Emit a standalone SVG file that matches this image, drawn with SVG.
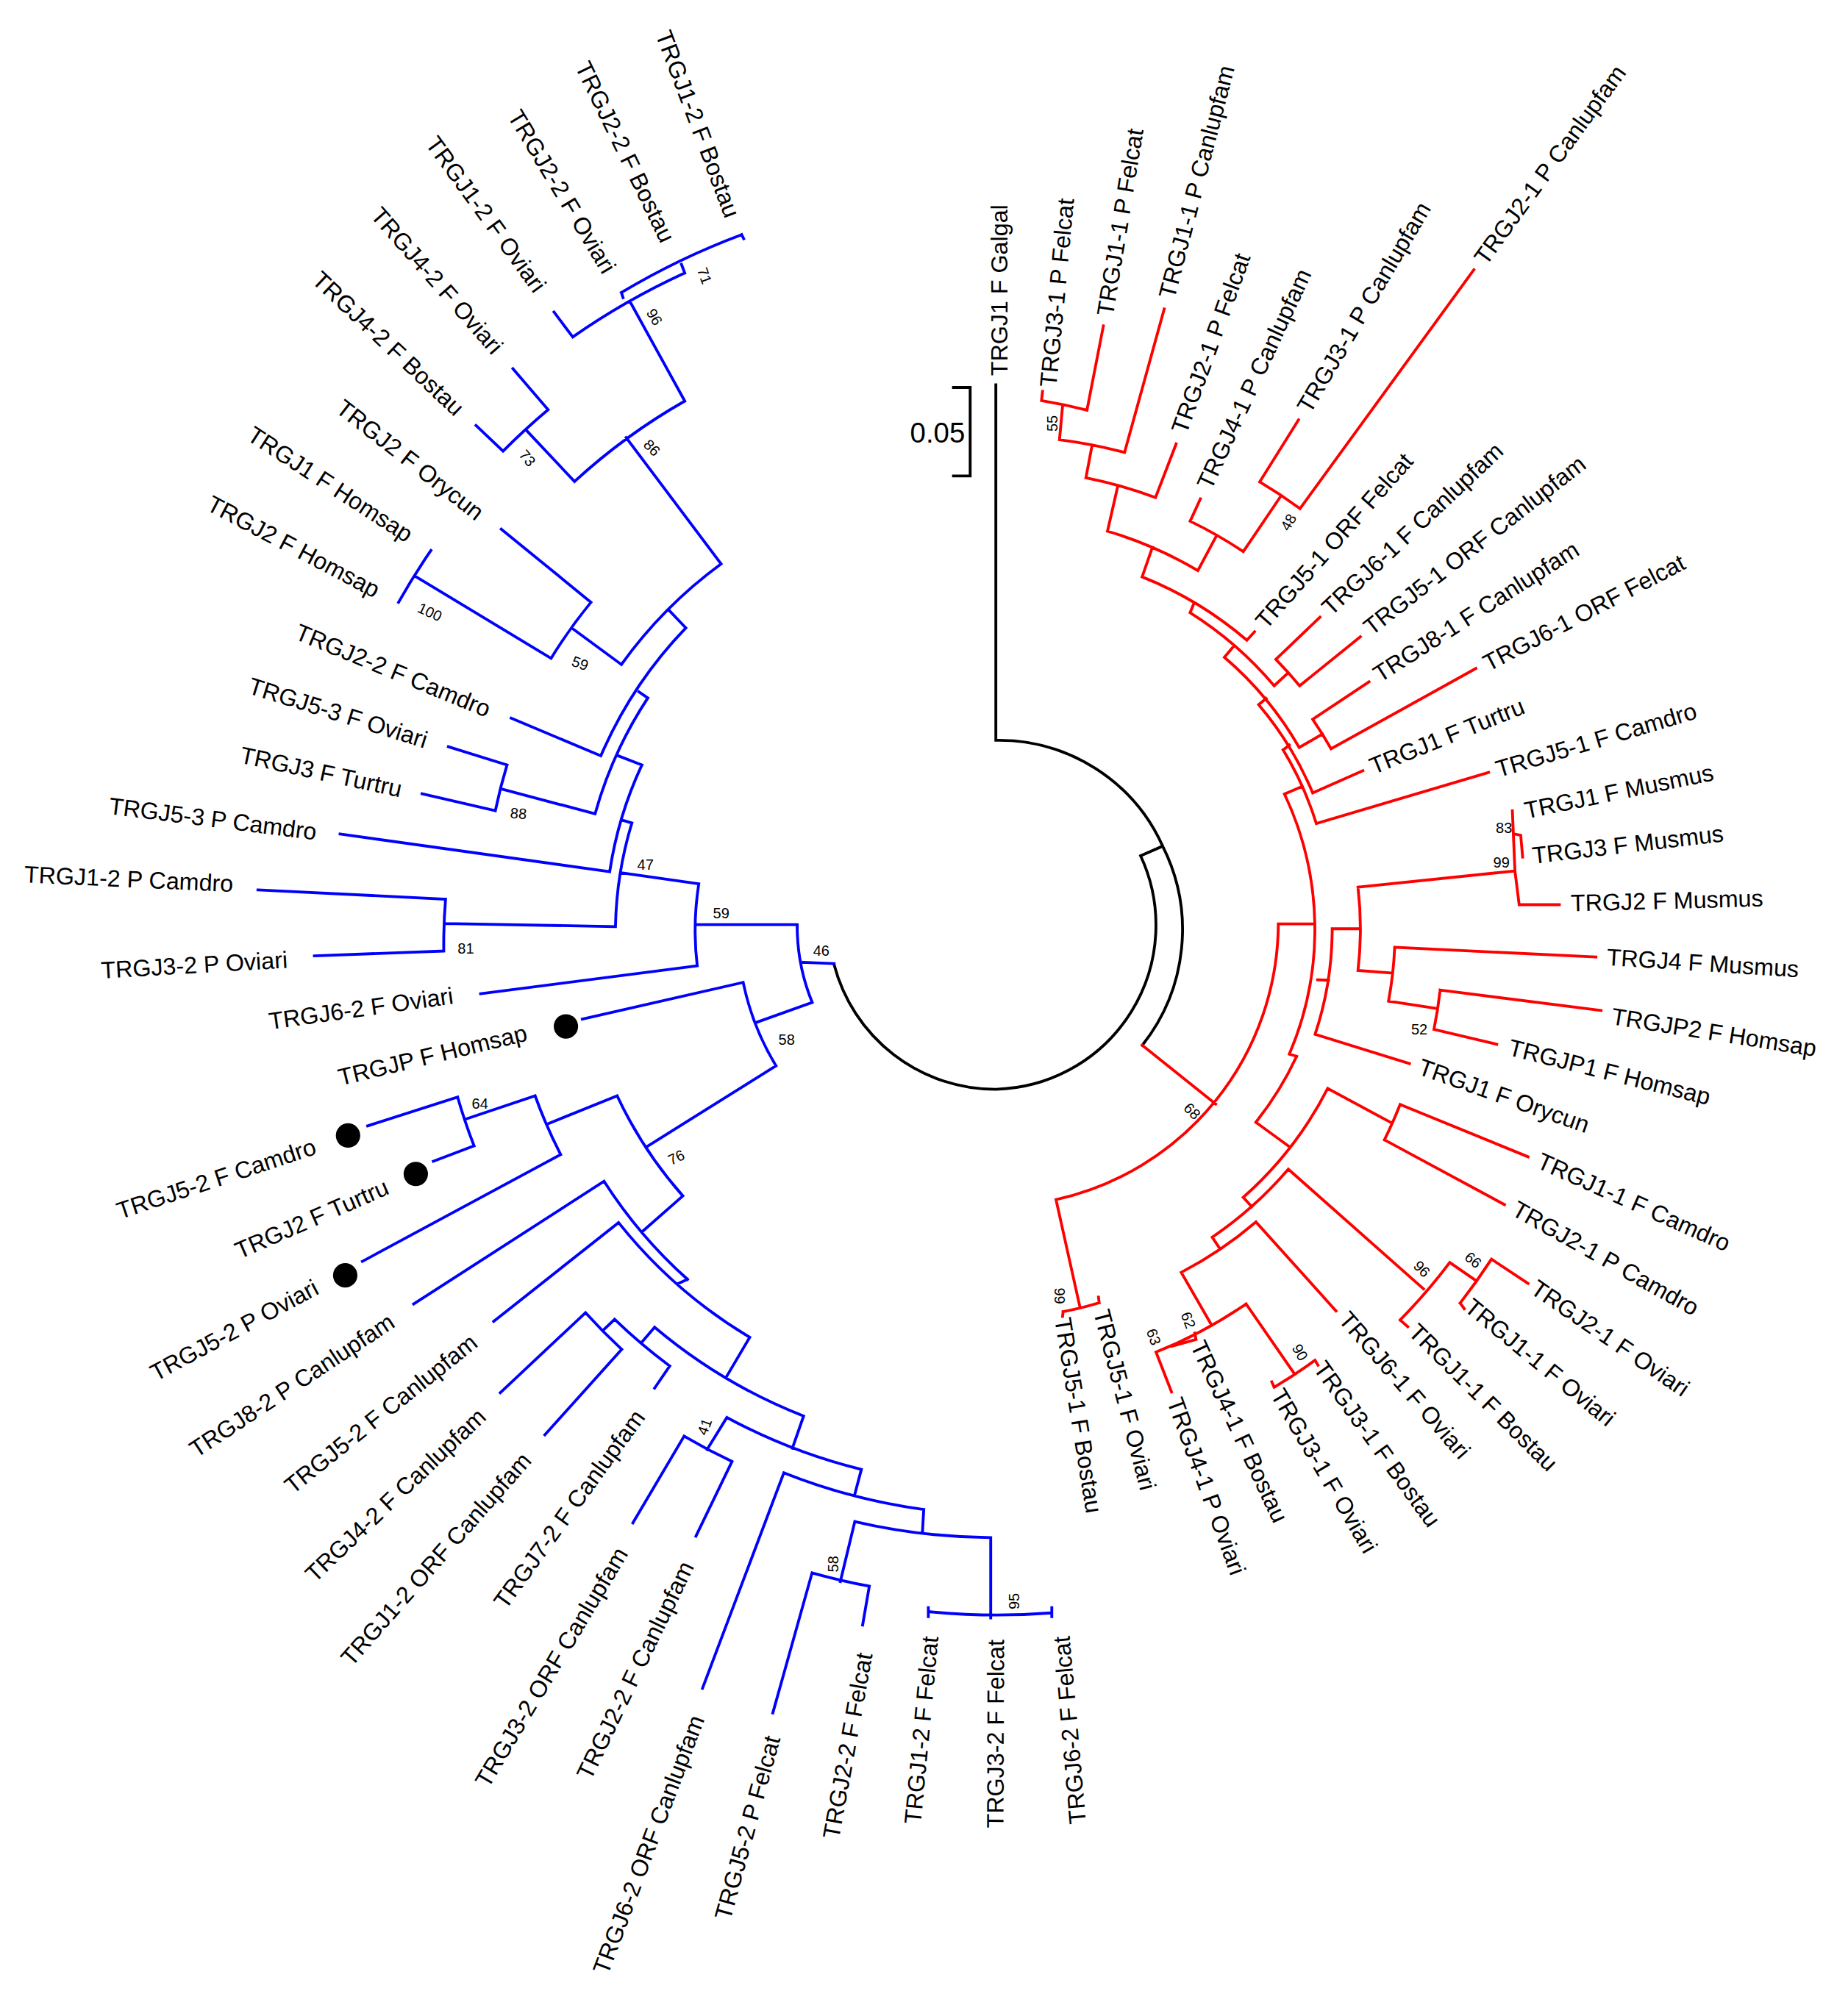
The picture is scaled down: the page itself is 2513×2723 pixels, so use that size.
<svg xmlns="http://www.w3.org/2000/svg" width="2513" height="2723" viewBox="0 0 2513 2723">
<style>
.e{fill:none;stroke-width:2.2;stroke-linecap:square}
.r{stroke:#ff0000}.b{stroke:#0000ff}.k{stroke:#000}
text{font-family:"Liberation Sans",Arial,sans-serif;fill:#000}
.l{font-size:18.5px;dominant-baseline:central}
.s{text-anchor:start}.n{text-anchor:end}
.bs{font-size:11.5px;text-anchor:middle;dominant-baseline:central}
</style>
<rect width="2513" height="2723" fill="#fff"/>
<g transform="scale(1.7451)">
<g id="connectors">
<path class="e k" d="M776,300 L776,577 M776,577 A140,140 0 0 1 906,659.5 M906,659.5 A145,145 0 0 1 890.1,814.7 M906,659.5 L888.8,667 M888.8,667 A128,128 0 0 1 776,849 A130,130 0 0 1 650,752"/>
<path class="e k" d="M743,302 L756,302 L756,371 L743,371"/>
<path class="e r" d="M811.6,312.2 A404,404 0 0 1 847,319.7 M811.6,312.2 L812.4,305 M847,319.7 L859.8,254 M828,316.4 L825.6,342.7 M825.6,342.7 A376,376 0 0 1 876.3,352.6 M876.3,352.6 L907.2,240.8 M851,347 L846.2,372.4 M846.2,372.4 A350,350 0 0 1 900.4,387.8 M900.4,387.8 L916.5,346 M871,379 L863,414 M863,414 A313,313 0 0 1 933.4,444.7 M933.4,444.7 L947.5,418.4 M927.4,406.2 A344,344 0 0 1 968.8,429.9 M927.4,406.2 L935.4,388.8 M968.8,429.9 L997.7,387.2 M981.6,375.6 A396,396 0 0 1 1013,396.4 M981.6,375.6 L1011.8,327.3 M1013,396.4 L1148.5,210.2 M898,426.6 L890,449.6 M890,449.6 A290,290 0 0 1 971.6,499 M971.6,499 L977.6,492.4 M930,471 L927.4,477.5 M927.4,477.5 A282,282 0 0 1 992.9,534.5 M992.9,534.5 L1003.8,524.4 M994.2,513.9 A296,296 0 0 1 1012.7,534.5 M994.2,513.9 L1028.6,481 M1012.7,534.5 L1060.1,496.3 M961.7,503.3 L954.1,512.3 M954.1,512.3 A269,269 0 0 1 1012.4,582.6 M1012.4,582.6 L1030.5,572.1 M1022.9,560.6 A290,290 0 0 1 1037.2,583.6 M1022.9,560.6 L1066.8,531.4 M1037.2,583.6 L1150,521 M986.6,544.4 L980.8,549.2 M980.8,549.2 A263,263 0 0 1 1022.9,618 M1022.9,618 L1062,600.7 M1004.7,580.7 L999.9,584.5 M999.9,584.5 A258,258 0 0 1 1025.7,641.8 M1025.7,641.8 L1160,602 M1014.3,613.2 L1000.9,618.9 M1000.9,618.9 A247,247 0 0 1 1004.7,821.6 M996.1,720.1 L1023.8,720.1 M1026.7,763.7 L1035.3,764 M1038.1,723.9 A261,261 0 0 1 1024.8,806.1 M1024.8,806.1 L1098.3,829 M1038.1,723.9 L1058.2,723.9 M1058.2,691.5 A282,282 0 0 1 1058.2,756.4 M1058.2,691.5 L1180.5,678.8 M1178.5,631.9 L1180.5,678.8 L1183.8,705.1 L1215.1,705.1 M1180,650 L1185,651 L1186.5,668 M1058.2,756.4 L1084,758.3 M1086.8,738.3 A310,310 0 0 1 1082,780.3 M1086.8,738.3 L1243.6,745.9 M1082,780.3 L1119.3,786 M1122.2,771.7 A349,349 0 0 1 1117.4,802.3 M1122.2,771.7 L1247.6,787.6 M1117.4,802.3 L1166.3,813.9 M1004.7,821.6 L1010.4,823.3 M1010.4,823.3 A256,256 0 0 1 978.6,874.7 M978.6,874.7 L1005,893.9 M1034.6,848.3 A289,289 0 0 1 968.8,933.2 M1034.6,848.3 L1082.9,874.4 M1091,860.8 A346,346 0 0 1 1078.8,888.4 M1091,860.8 L1190.7,901.6 M1078.8,888.4 L1172.4,938.9 M968.8,933.2 L975.4,940.5 M1003.9,911.3 A299,299 0 0 1 944.6,964.3 M1003.9,911.3 L1109.3,1004.6 M1129.7,984 A442,442 0 0 1 1091,1028.8 M1091,1028.8 L1097,1034 M1129.7,984 L1150,998 M1162.2,981.4 A467,467 0 0 1 1137.8,1015.6 M1162.2,981.4 L1190.7,1000.3 M1137.8,1015.6 L1141,1020 M944.6,964.3 L950.1,972.5 M978.7,952.4 A310,310 0 0 1 920.5,991.7 M978.7,952.4 L1041.1,1021.8 M920.5,991.7 L943.6,1031.9 M971,1016.3 A358,358 0 0 1 900.8,1053.8 M900.8,1053.8 L912.9,1084.9 M914,1049 L932,1044 L931,1039 M971,1016.3 L1008.3,1070.2 M1024.7,1060.2 A423,423 0 0 1 992.9,1081.2 M1024.7,1060.2 L1027,1064 M992.9,1081.2 L991,1077 M890.1,814.7 L947.4,860.5 M996.1,720.1 A221,221 0 0 1 822.9,935 M822.9,935 L841.6,1019.1 M856.5,1015.4 A310,310 0 0 1 828.4,1022.4 M856.5,1015.4 L856,1011 M828.4,1022.4 L828,1026"/>
<path class="e b" d="M577.9,182.9 A569,569 0 0 0 484.2,228 M531,206 L533.6,212.8 M533.6,212.8 A559,559 0 0 0 446.3,262.7 M446.3,262.7 L431.7,243.2 M491,235.2 L533.6,312.6 M533.6,312.6 A472,472 0 0 0 447.7,375.3 M447.7,375.3 L409.8,335 M427.1,319.3 A530,530 0 0 0 392,351.6 M427.1,319.3 L399.7,287.4 M392,351.6 L370.9,331.6 M487.9,341.1 L561.9,439.5 M561.9,439.5 A351,351 0 0 0 484.2,517.9 M484.2,517.9 L445.4,489.4 M460.5,469.4 A402,402 0 0 0 429.4,513.1 M460.5,469.4 L390.6,412.4 M429.4,513.1 L323.4,449 M335.8,429 A527,527 0 0 0 310.6,469.4 M520.8,475.1 L534.4,489.4 M534.4,489.4 A333,333 0 0 0 468.2,589.1 M468.2,589.1 L398.3,559.7 M497.9,539.2 L504.8,544 M504.8,544 A322,322 0 0 0 463.7,634.3 M463.7,634.3 L391.9,615.2 M395.1,596.2 A401,401 0 0 0 386,631.9 M395.1,596.2 L349.4,582 M386,631.9 L328.9,618.6 M481.9,589.1 L500.2,596.2 M500.2,596.2 A303,303 0 0 0 475.1,679.4 M475.1,679.4 L265,650 M484.2,639 L492.4,641.4 M492.4,641.4 A296,296 0 0 0 479.6,722.2 M484.2,680.3 L544.5,688.9 M479.6,722.2 L347.2,719.8 M347.2,700.8 A432,432 0 0 0 345.8,741.2 M347.2,700.8 L201,693.6 M345.8,741.2 L245,745 M544.5,688.9 A235,235 0 0 0 543.3,752.7 M543.3,752.7 L374.5,774.5 M542.7,720.7 L621.2,720.7 M621.2,720.7 A158,158 0 0 0 632.9,781.3 M626,750 L650,751 M632.9,781.3 L589.4,796.9 M579.1,765.7 A206,206 0 0 0 604.7,830.7 M579.1,765.7 L453.8,794.3 M604.7,830.7 L505,893.1 M480.9,854.1 A327,327 0 0 0 532.1,932.1 M480.9,854.1 L426.7,876 M417,854.1 A387,387 0 0 0 436.9,899.9 M417,854.1 L362.7,872.3 M356.6,855.1 A444,444 0 0 0 369.4,893.1 M356.6,855.1 L286.5,877.5 M369.4,893.1 L337.7,905.1 M436.9,899.9 L282.4,983.1 M532.1,932.1 L501.4,959.1 M470.7,920.7 A370,370 0 0 0 535.7,997.1 M470.7,920.7 L322.3,1016.3 M535.7,997.1 L528,1000.7 M482,952.9 A379,379 0 0 0 584.2,1042.3 M482,952.9 L384.7,1029.9 M584.2,1042.3 L566.4,1072.5 M510.1,1034.5 A415,415 0 0 0 626.2,1103.7 M510.1,1034.5 L499.8,1046.5 M478.9,1028.3 A432,432 0 0 0 521.9,1064.7 M521.9,1064.7 L510.1,1081.9 M478.9,1028.3 L470.7,1036.1 M456.3,1023.1 A445,445 0 0 0 484.5,1051.7 M456.3,1023.1 L389.8,1085.5 M484.5,1051.7 L424.6,1118.3 M626.2,1103.7 L617.5,1128.7 M566.4,1104.8 A443,443 0 0 0 671.2,1145.3 M566.4,1104.8 L551,1129.7 M533.1,1119.3 A472,472 0 0 0 570.4,1139.1 M533.1,1119.3 L493.2,1186.9 M570.4,1139.1 L542.3,1197.3 M671.2,1145.3 L666,1165 M610.8,1147.9 A463,463 0 0 0 719.8,1176.5 M610.8,1147.9 L547.4,1315.9 M719.8,1176.5 L718.8,1194.7 M666.1,1185.9 A483,483 0 0 0 772,1198.4 M666.1,1185.9 L654.8,1232.7 M632.8,1225.9 A530,530 0 0 0 677.4,1236.3 M632.8,1225.9 L602.2,1335.1 M677.4,1236.3 L672.2,1266.5 M772,1198.4 L772,1261 M723.4,1256.1 A543,543 0 0 0 819.6,1257.1 M723.4,1253 L723.4,1260 M819.6,1253 L819.6,1260 M577.9,182.9 L579.5,186 M484.2,228 L485.5,232"/>
</g>
<g id="scale"><text x="752" y="337" font-size="22" text-anchor="end" dominant-baseline="central">0.05</text></g>
<g id="markers" fill="#000">
<circle cx="441" cy="800" r="9.5"/><circle cx="271.2" cy="885" r="9.5"/><circle cx="324" cy="915" r="9.5"/><circle cx="269" cy="994" r="9.5"/>
</g>
<g id="red-labels" class="l s">
<text transform="translate(778.6,293) rotate(-90)">TRGJ1 F Galgal</text>
<text transform="translate(816.8,301.6) rotate(-84.6)">TRGJ3-1 P Felcat</text>
<text transform="translate(861,246) rotate(-80.7)">TRGJ1-1 P Felcat</text>
<text transform="translate(909,232) rotate(-75.4)">TRGJ1-1 P Canlupfam</text>
<text transform="translate(918.5,337) rotate(-70.1)">TRGJ2-1 P Felcat</text>
<text transform="translate(938,380) rotate(-65.1)">TRGJ4-1 P Canlupfam</text>
<text transform="translate(1015.5,320) rotate(-59.5)">TRGJ3-1 P Canlupfam</text>
<text transform="translate(1153,204) rotate(-54)">TRGJ2-1 P Canlupfam</text>
<text transform="translate(982,487) rotate(-48.6)">TRGJ5-1 ORF Felcat</text>
<text transform="translate(1033,476) rotate(-43.3)">TRGJ6-1 F Canlupfam</text>
<text transform="translate(1065,491) rotate(-38.1)">TRGJ5-1 ORF Canlupfam</text>
<text transform="translate(1072,527) rotate(-32.7)">TRGJ8-1 F Canlupfam</text>
<text transform="translate(1157,518) rotate(-27.6)">TRGJ6-1 ORF Felcat</text>
<text transform="translate(1068,598) rotate(-22.1)">TRGJ1 F Turtru</text>
<text transform="translate(1166,600) rotate(-16.6)">TRGJ5-1 F Camdro</text>
<text transform="translate(1188,632) rotate(-11.6)">TRGJ1 F Musmus</text>
<text transform="translate(1194,667) rotate(-6.7)">TRGJ3 F Musmus</text>
<text transform="translate(1224,704) rotate(-1.5)">TRGJ2 F Musmus</text>
<text transform="translate(1252,746) rotate(3.6)">TRGJ4 F Musmus</text>
<text transform="translate(1256,792) rotate(9)">TRGJP2 F Homsap</text>
<text transform="translate(1176,816) rotate(14.1)">TRGJP1 F Homsap</text>
<text transform="translate(1106,831) rotate(19.4)">TRGJ1 F Orycun</text>
<text transform="translate(1199,904) rotate(24)">TRGJ1-1 F Camdro</text>
<text transform="translate(1180,941) rotate(29.2)">TRGJ2-1 P Camdro</text>
<text transform="translate(1195,1002) rotate(34.5)">TRGJ2-1 F Oviari</text>
<text transform="translate(1144,1016) rotate(39.3)">TRGJ1-1 F Oviari</text>
<text transform="translate(1101,1035) rotate(44.7)">TRGJ1-1 F Bostau</text>
<text transform="translate(1047,1025) rotate(49)">TRGJ6-1 F Oviari</text>
<text transform="translate(1028,1063) rotate(54.2)">TRGJ3-1 F Bostau</text>
<text transform="translate(995,1084) rotate(59.5)">TRGJ3-1 F Oviari</text>
<text transform="translate(933,1046) rotate(64.9)">TRGJ4-1 F Bostau</text>
<text transform="translate(915,1090) rotate(69.9)">TRGJ4-1 P Oviari</text>
<text transform="translate(858,1021) rotate(75.3)">TRGJ5-1 F Oviari</text>
<text transform="translate(828,1027) rotate(80.8)">TRGJ5-1 F Bostau</text>
</g>
<g id="blue-labels" class="l n">
<text transform="translate(571,168.7) rotate(69.3)">TRGJ1-2 F Bostau</text>
<text transform="translate(520.8,187.7) rotate(64.1)">TRGJ2-2 F Bostau</text>
<text transform="translate(475.1,211.4) rotate(59)">TRGJ2-2 F Oviari</text>
<text transform="translate(421.2,225.7) rotate(54)">TRGJ1-2 F Oviari</text>
<text transform="translate(388.3,273.2) rotate(48.7)">TRGJ4-2 F Oviari</text>
<text transform="translate(358.6,320.7) rotate(43.3)">TRGJ4-2 F Bostau</text>
<text transform="translate(374.6,401.5) rotate(38)">TRGJ2 F Orycun</text>
<text transform="translate(319.8,418.1) rotate(33)">TRGJ1 F Homsap</text>
<text transform="translate(294.6,460.8) rotate(27.8)">TRGJ2 F Homsap</text>
<text transform="translate(381.4,553.5) rotate(22.3)">TRGJ2-2 F Camdro</text>
<text transform="translate(332.6,577.2) rotate(17.3)">TRGJ5-3 F Oviari</text>
<text transform="translate(312.9,615.3) rotate(12.2)">TRGJ3 F Turtru</text>
<text transform="translate(246.7,648.5) rotate(7.2)">TRGJ5-3 P Camdro</text>
<text transform="translate(181.8,688.9) rotate(2.6)">TRGJ1-2 P Camdro</text>
<text transform="translate(224,748) rotate(-3.3)">TRGJ3-2 P Oviari</text>
<text transform="translate(353,776) rotate(-8)">TRGJ6-2 F Oviari</text>
<text transform="translate(410.3,804.7) rotate(-13.6)">TRGJP F Homsap</text>
<text transform="translate(245.6,893.1) rotate(-18.4)">TRGJ5-2 F Camdro</text>
<text transform="translate(301.8,924.3) rotate(-23.6)">TRGJ2 F Turtru</text>
<text transform="translate(246.6,1002.3) rotate(-28.3)">TRGJ5-2 P Oviari</text>
<text transform="translate(305.4,1028.3) rotate(-33.5)">TRGJ8-2 P Canlupfam</text>
<text transform="translate(369.4,1043.9) rotate(-38.7)">TRGJ5-2 F Canlupfam</text>
<text transform="translate(375.5,1101.1) rotate(-43.7)">TRGJ4-2 F Canlupfam</text>
<text transform="translate(410.3,1134.9) rotate(-48.7)">TRGJ1-2 ORF Canlupfam</text>
<text transform="translate(498.3,1101.1) rotate(-54)">TRGJ7-2 F Canlupfam</text>
<text transform="translate(484.5,1207.7) rotate(-59.2)">TRGJ3-2 ORF Canlupfam</text>
<text transform="translate(535.6,1218.1) rotate(-64.2)">TRGJ2-2 F Canlupfam</text>
<text transform="translate(543.3,1337.7) rotate(-69.3)">TRGJ6-2 ORF Canlupfam</text>
<text transform="translate(602.1,1353.3) rotate(-74.6)">TRGJ5-2 P Felcat</text>
<text transform="translate(673.8,1288.3) rotate(-79.7)">TRGJ2-2 F Felcat</text>
<text transform="translate(725,1275.3) rotate(-84.6)">TRGJ1-2 F Felcat</text>
<text transform="translate(776.1,1277.9) rotate(-89.8)">TRGJ3-2 F Felcat</text>
<text transform="translate(827.2,1275.3) rotate(-95)">TRGJ6-2 F Felcat</text>
</g>
<g id="bootstrap" class="bs">
<text transform="translate(820,330) rotate(-90)">55</text>
<text transform="translate(1004,407) rotate(-60)">48</text>
<text x="1172" y="645">83</text>
<text x="1170" y="672">99</text>
<text x="1106" y="802">52</text>
<text transform="translate(929,866) rotate(45)">68</text>
<text transform="translate(1108,989) rotate(45)">96</text>
<text transform="translate(1148,982) rotate(40)">66</text>
<text transform="translate(1013,1054) rotate(60)">90</text>
<text transform="translate(926,1029) rotate(70)">62</text>
<text transform="translate(899,1042) rotate(70)">63</text>
<text transform="translate(826,1010) rotate(90)">99</text>
<text transform="translate(549,215) rotate(70)">71</text>
<text transform="translate(510,247) rotate(60)">96</text>
<text transform="translate(411,357) rotate(50)">73</text>
<text transform="translate(508,349) rotate(45)">86</text>
<text transform="translate(335,477) rotate(25)">100</text>
<text transform="translate(452,517) rotate(20)">59</text>
<text transform="translate(404,634) rotate(5)">88</text>
<text x="503" y="674">47</text>
<text x="363" y="739">81</text>
<text x="562" y="712">59</text>
<text x="640" y="741">46</text>
<text x="613" y="810">58</text>
<text x="374" y="860">64</text>
<text transform="translate(527,902) rotate(-25)">76</text>
<text transform="translate(549,1112) rotate(-70)">41</text>
<text transform="translate(649,1219) rotate(-90)">58</text>
<text transform="translate(790,1248) rotate(-90)">95</text>
</g>
</g>
</svg>
